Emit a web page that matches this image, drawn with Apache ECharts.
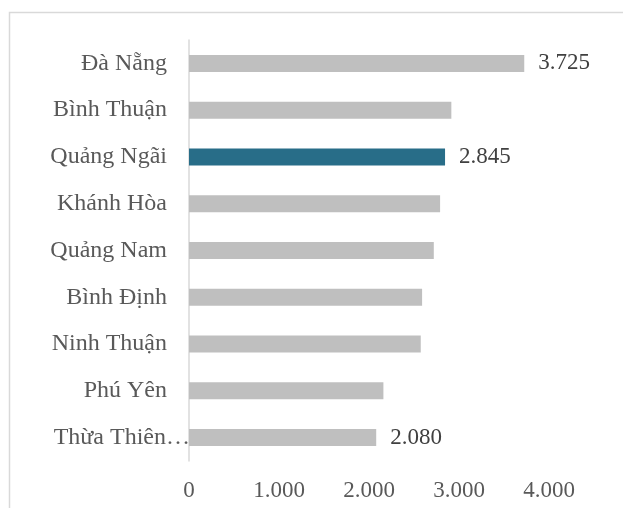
<!DOCTYPE html>
<html>
<head>
<meta charset="utf-8">
<script src="https://cdn.jsdelivr.net/npm/echarts@6/dist/echarts.min.js"></script>
<style>
  html, body { margin: 0; padding: 0; background: #ffffff; }
  #chart { width: 623px; height: 508px; }
</style>
</head>
<body>
<div id="chart"></div>
<script>
// Provinces, top to bottom
const provinces = ['Đà Nẵng', 'Bình Thuận', 'Quảng Ngãi', 'Khánh Hòa', 'Quảng Nam',
                   'Bình Định', 'Ninh Thuận', 'Phú Yên', 'Thừa Thiên Huế'];
const values = [3725, 2915, 2845, 2790, 2720, 2590, 2575, 2160, 2080];
// Provinces whose value is written next to the bar
const labelled = ['Đà Nẵng', 'Quảng Ngãi', 'Thừa Thiên Huế'];
const highlighted = 'Quảng Ngãi';
const xTicks = [0, 1000, 2000, 3000, 4000];

const FONT = '"Liberation Serif", "Times New Roman", serif';

function fmt(v) {
  return String(v).replace(/\B(?=(\d{3})+(?!\d))/g, '.');
}

const chart = echarts.init(document.getElementById('chart'));

chart.setOption({
  backgroundColor: '#ffffff',
  animation: false,
  graphic: [{
    type: 'rect',
    shape: { x: 9.5, y: 12.5, width: 700, height: 600 },
    style: { fill: 'none', stroke: '#d9d9d9', lineWidth: 1.5 },
    silent: true
  }],
  grid: { left: 189, right: 74, top: 40, bottom: 47, containLabel: false },
  xAxis: {
    type: 'value',
    min: xTicks[0],
    max: xTicks[xTicks.length - 1],
    interval: xTicks[1] - xTicks[0],
    axisLine: { show: false },
    axisTick: { show: false },
    splitLine: { show: false },
    axisLabel: {
      margin: 18,
      fontFamily: FONT,
      fontSize: 23,
      color: '#595959',
      formatter: fmt
    }
  },
  yAxis: {
    type: 'category',
    inverse: true,
    data: provinces.map(function (p) {
      // long names are cut short and run over the axis line
      return p.length > 12
        ? { value: p, textStyle: { padding: [0, -23, 0, 0] } }
        : p;
    }),
    axisLine: { show: true, lineStyle: { color: '#d9d9d9', width: 1.5 } },
    axisTick: { show: false },
    axisLabel: {
      margin: 22,
      fontFamily: FONT,
      fontSize: 24,
      color: '#595959',
      formatter: function (name) {
        return name.length > 12 ? name.slice(0, 10) + '…' : name;
      }
    }
  },
  series: [{
    type: 'bar',
    barWidth: 17,
    data: provinces.map(function (p, i) {
      return {
        value: values[i],
        itemStyle: { color: p === highlighted ? '#286d88' : '#bfbfbf' },
        label: { show: labelled.indexOf(p) >= 0 }
      };
    }),
    label: {
      position: 'right',
      distance: 14,
      fontFamily: FONT,
      fontSize: 23,
      color: '#404040',
      formatter: function (p) { return fmt(p.value); }
    }
  }]
});
</script>
</body>
</html>
